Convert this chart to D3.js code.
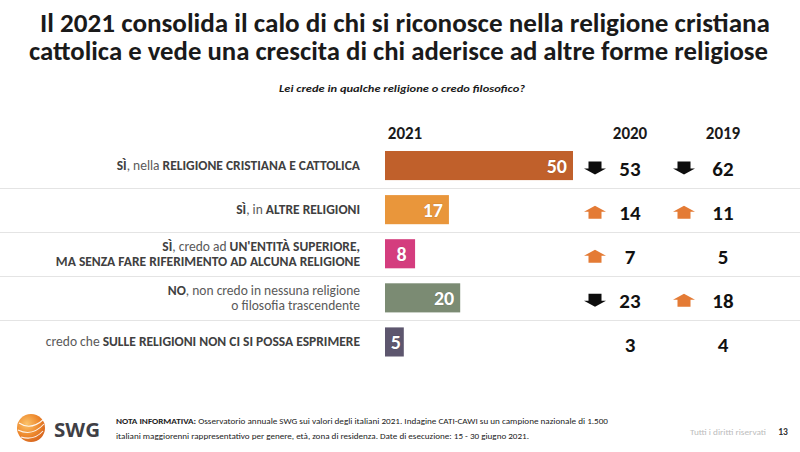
<!DOCTYPE html>
<html>
<head>
<meta charset="utf-8">
<script src="https://cdn.jsdelivr.net/npm/d3@7"></script>
<style>
  html, body { margin: 0; padding: 0; background: #fff; }
  svg { display: block; }
</style>
</head>
<body>
<svg id="chart" width="800" height="452"></svg>
<script>
// ---------------- DATA ----------------
const categories = ["cattolica", "altre", "entita", "no", "non_esprimere"];
const labelLines = [
  [[["SÌ", true], [", nella ", false], ["RELIGIONE CRISTIANA E CATTOLICA", true]]],
  [[["SÌ", true], [", in ", false], ["ALTRE RELIGIONI", true]]],
  [[["SÌ", true], [", credo ad ", false], ["UN'ENTITÀ SUPERIORE,", true]],
   [["MA SENZA FARE RIFERIMENTO AD ALCUNA RELIGIONE", true]]],
  [[["NO", true], [", non credo in nessuna religione", false]],
   [["o filosofia trascendente", false]]],
  [[["credo che ", false], ["SULLE RELIGIONI NON CI SI POSSA ESPRIMERE", true]]]
];
const values2021 = [50, 17, 8, 20, 5];
const values2020 = [53, 14, 7, 23, 3];
const values2019 = [62, 11, 5, 18, 4];
const trend2020 = ["down", "up", "up", "down", null];
const trend2019 = ["down", "up", null, "up", null];
const yearLabels = ["2021", "2020", "2019"];
const barColors = ["#C0602B", "#E9963B", "#D43D7E", "#7B8B73", "#5D566E"];

const titleLines = [
  "Il 2021 consolida il calo di chi si riconosce nella religione cristiana",
  "cattolica e vede una crescita di chi aderisce ad altre forme religiose"
];
const subtitle = "Lei crede in qualche religione o credo filosofico?";
const noteBold = "NOTA INFORMATIVA:";
const noteLine1 = " Osservatorio annuale SWG sui valori degli italiani 2021. Indagine CATI-CAWI su un campione nazionale di 1.500";
const noteLine2 = "italiani maggiorenni rappresentativo per genere, età, zona di residenza. Date di esecuzione: 15 - 30 giugno 2021.";
const rightsText = "Tutti i diritti riservati";
const pageNumber = "13";

// ---------------- CHART ----------------
const FONT = "Carlito, 'Liberation Sans Narrow', 'Open Sans', sans-serif";
const svg = d3.select("#chart");

// Title
const titleX = [40, 29], titleW = [730, 739];
titleLines.forEach((t, i) => {
  svg.append("text")
    .attr("x", titleX[i]).attr("y", 32 + i * 28)
    .attr("font-family", FONT).attr("font-weight", "bold")
    .attr("font-size", 26).attr("fill", "#1a1a1a")
    .attr("textLength", titleW[i]).attr("lengthAdjust", "spacingAndGlyphs")
    .text(t);
});

svg.append("text")
  .attr("x", 402).attr("y", 92)
  .attr("text-anchor", "middle")
  .attr("font-family", FONT).attr("font-style", "italic").attr("font-weight", "bold")
  .attr("font-size", 10.5).attr("fill", "#1a1a1a")
  .attr("textLength", 246).attr("lengthAdjust", "spacingAndGlyphs")
  .text(subtitle);

// Scales
const x = d3.scaleLinear().domain([0, 50]).range([385, 573]);
const y = d3.scaleBand().domain(categories).range([143.5, 364]).paddingInner(0.34).paddingOuter(0.17);
const step = y.step();

// separators
svg.append("g").selectAll("line")
  .data(categories.slice(1))
  .join("line")
  .attr("x1", 0).attr("x2", 800)
  .attr("y1", d => Math.round(y(d) - step * 0.17) + 0.5)
  .attr("y2", d => Math.round(y(d) - step * 0.17) + 0.5)
  .attr("stroke", "#e4e4e4").attr("stroke-width", 1);

// Year headers
const colX = [405, 630, 723];
yearLabels.forEach((t, i) => {
  svg.append("text")
    .attr("x", colX[i]).attr("y", 139)
    .attr("text-anchor", "middle")
    .attr("font-family", FONT).attr("font-weight", "bold")
    .attr("font-size", 17).attr("fill", "#1a1a1a")
    .text(t);
});

// Category labels
categories.forEach((c, i) => {
  const lines = labelLines[i];
  const cy = y(c) + y.bandwidth() / 2;
  const lh = 15.5;
  lines.forEach((segs, j) => {
    const ly = cy + (j - (lines.length - 1) / 2) * lh + 4.5;
    const t = svg.append("text")
      .attr("x", 360).attr("y", ly)
      .attr("text-anchor", "end")
      .attr("font-family", FONT).attr("font-size", 13.5);
    segs.forEach(([s, b]) => {
      t.append("tspan")
        .attr("font-weight", b ? "bold" : "normal")
        .attr("fill", b ? "#404040" : "#595959")
        .text(s);
    });
  });
});

// Bars
svg.append("g").selectAll("rect")
  .data(categories)
  .join("rect")
  .attr("x", x(0))
  .attr("y", d => y(d))
  .attr("width", (d, i) => x(values2021[i]) - x(0))
  .attr("height", y.bandwidth())
  .attr("fill", (d, i) => barColors[i]);

// Bar value labels
svg.append("g").selectAll("text")
  .data(categories)
  .join("text")
  .attr("x", (d, i) => {
    const w = x(values2021[i]) - x(0);
    return w < 35 ? x(0) + w / 2 + 1.5 : x(values2021[i]) - 6;
  })
  .attr("y", d => y(d) + y.bandwidth() / 2 + 7)
  .attr("text-anchor", (d, i) => (x(values2021[i]) - x(0)) < 35 ? "middle" : "end")
  .attr("font-family", FONT).attr("font-weight", "bold")
  .attr("font-size", 20).attr("fill", "#fff")
  .style("paint-order", "stroke").attr("stroke", "rgba(0,0,0,0.15)").attr("stroke-width", 1)
  .text((d, i) => values2021[i]);

// Arrows
function arrowPath(cx, cy, dir) {
  const hw = 11, sw = 6.5, h = 6.5;
  const s = dir === "down" ? 1 : -1;
  const top = cy - s * h, mid = cy + s * 0.5, tip = cy + s * h;
  return `M${cx - sw},${top} L${cx + sw},${top} L${cx + sw},${mid} L${cx + hw},${mid} L${cx},${tip} L${cx - hw},${mid} L${cx - sw},${mid} Z`;
}
const arrowX = [595, 684];
[trend2020, trend2019].forEach((tr, k) => {
  categories.forEach((c, i) => {
    if (!tr[i]) return;
    const cy = y(c) + y.bandwidth() / 2 + 2.5;
    svg.append("path")
      .attr("d", arrowPath(arrowX[k], cy, tr[i]))
      .attr("fill", tr[i] === "down" ? "#0d0d0d" : "#E47B35");
  });
});

// Past values
[values2020, values2019].forEach((vals, k) => {
  categories.forEach((c, i) => {
    svg.append("text")
      .attr("x", colX[k + 1]).attr("y", y(c) + y.bandwidth() / 2 + 10)
      .attr("text-anchor", "middle")
      .attr("font-family", FONT).attr("font-weight", "bold")
      .attr("font-size", 21).attr("fill", "#111")
      .text(vals[i]);
  });
});

// ---------------- FOOTER ----------------
const defs = svg.append("defs");
const grad = defs.append("radialGradient").attr("id", "logoGrad")
  .attr("cx", "35%").attr("cy", "35%").attr("r", "70%");
grad.append("stop").attr("offset", "0%").attr("stop-color", "#FBC36A");
grad.append("stop").attr("offset", "60%").attr("stop-color", "#EE8A2E");
grad.append("stop").attr("offset", "100%").attr("stop-color", "#D8661E");
svg.append("circle").attr("cx", 31).attr("cy", 428).attr("r", 14).attr("fill", "url(#logoGrad)");
const arcs = svg.append("g").attr("fill", "none").attr("stroke", "#fff").attr("stroke-width", 1.1).attr("opacity", 0.9);
arcs.append("path").attr("d", "M19,423 Q31,431 44,419");
arcs.append("path").attr("d", "M18,430 Q32,437 44,424");
arcs.append("path").attr("d", "M21,437 Q34,441 43,431");
svg.append("text").attr("x", 54).attr("y", 437)
  .attr("font-family", "'Open Sans', sans-serif").attr("font-weight", "bold")
  .attr("font-size", 19).attr("fill", "#3f3f46")
  .attr("textLength", 46).attr("lengthAdjust", "spacingAndGlyphs")
  .text("SWG");

const n1 = svg.append("text").attr("x", 116).attr("y", 424)
  .attr("font-family", FONT).attr("font-size", 8).attr("fill", "#222")
  .attr("textLength", 492).attr("lengthAdjust", "spacingAndGlyphs");
n1.append("tspan").attr("font-weight", "bold").text(noteBold);
n1.append("tspan").text(noteLine1);
svg.append("text").attr("x", 116).attr("y", 439)
  .attr("font-family", FONT).attr("font-size", 8).attr("fill", "#222")
  .attr("textLength", 413).attr("lengthAdjust", "spacingAndGlyphs")
  .text(noteLine2);

svg.append("text").attr("x", 690).attr("y", 435)
  .attr("font-family", FONT).attr("font-size", 8.5).attr("fill", "#bdbdbd")
  .attr("textLength", 76).attr("lengthAdjust", "spacingAndGlyphs")
  .text(rightsText);
svg.append("text").attr("x", 783).attr("y", 435)
  .attr("text-anchor", "middle")
  .attr("font-family", FONT).attr("font-weight", "bold").attr("font-size", 9.5).attr("fill", "#333")
  .text(pageNumber);
</script>
</body>
</html>
